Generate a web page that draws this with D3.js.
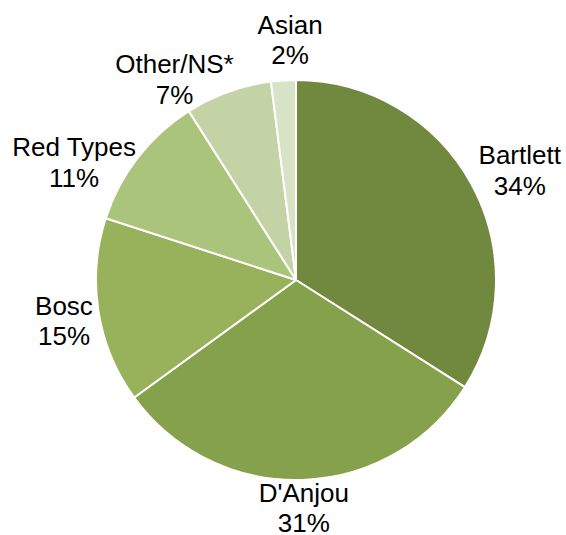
<!DOCTYPE html>
<html>
<head>
<meta charset="utf-8">
<script src="https://cdn.jsdelivr.net/npm/d3@7"></script>
<style>
  html, body { margin: 0; padding: 0; background: #ffffff; }
  svg { display: block; }
  text { font-family: "Liberation Sans", Arial, sans-serif; fill: #000; }
</style>
</head>
<body>
<svg id="chart" width="566" height="535"></svg>
<script>
// Pear variety shares (%)
const varieties = ["Bartlett", "D'Anjou", "Bosc", "Red Types", "Other/NS*", "Asian"];
const shares = [34, 31, 15, 11, 7, 2];
const sliceColors = ["#71893f", "#86a14b", "#97b25a", "#aac47b", "#c3d3a5", "#d8e2c7"];

// Hand tweaks for crowded labels, in pixels [dx, dy]
const labelNudge = [[8, 1], [0, -2], [-1, 5], [-11, 23], [-32, 15], [9, -11]];

const width = 566, height = 535;
const cx = 296, cy = 280, radius = 200;
const fontSize = 26, lineGap = 30.5, labelRadius = 205;
const capH = 0.716 * fontSize;

const svg = d3.select("#chart");
const g = svg.append("g").attr("transform", `translate(${cx},${cy})`);

const data = varieties.map((name, i) => ({ name, value: shares[i], color: sliceColors[i], nudge: labelNudge[i] }));

const pie = d3.pie().value(d => d.value).sort(null);
const arc = d3.arc().innerRadius(0).outerRadius(radius);
const arcs = pie(data);

g.selectAll("path.slice")
  .data(arcs)
  .join("path")
  .attr("class", "slice")
  .attr("d", arc)
  .attr("fill", d => d.data.color)
  .attr("stroke", "#ffffff")
  .attr("stroke-width", 2)
  .attr("stroke-linejoin", "round");

// Labels sit just outside the slice end; the box is anchored on the side facing the pie
const labels = g.selectAll("g.label")
  .data(arcs)
  .join("g")
  .attr("class", "label");

labels.each(function(d) {
  const grp = d3.select(this);
  const t = grp.append("text")
    .attr("text-anchor", "middle")
    .style("font-size", fontSize + "px");
  const l1 = t.append("tspan").attr("x", 0).text(d.data.name);
  const l2 = t.append("tspan").attr("x", 0).text(d.data.value + "%");

  const hw = Math.max(l1.node().getComputedTextLength(), l2.node().getComputedTextLength()) / 2;
  const hh = (capH + lineGap) / 2;
  const mid = (d.startAngle + d.endAngle) / 2;
  const ux = Math.sin(mid), uy = -Math.cos(mid);
  const px = ux * (labelRadius + hw) + d.data.nudge[0];
  const py = uy * labelRadius + uy * hh + d.data.nudge[1];

  const base1 = py - hh + capH;
  l1.attr("y", base1);
  l2.attr("y", base1 + lineGap);
  grp.attr("transform", `translate(${px},0)`);
});
</script>
</body>
</html>
